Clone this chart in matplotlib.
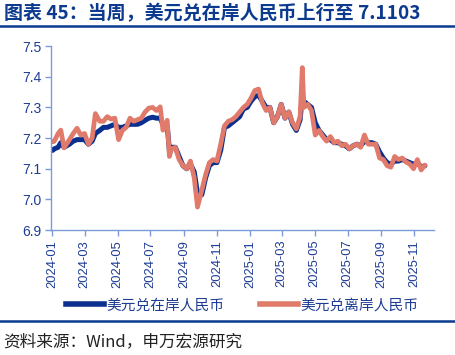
import matplotlib
matplotlib.use("Agg")
import matplotlib.pyplot as plt
import pandas as pd
from matplotlib.lines import Line2D

plt.rcParams['font.family'] = ['Liberation Sans', 'Noto Sans CJK SC', 'DejaVu Sans']

# weekly-ish readings
dates = [
    "2024-01-02", "2024-01-05", "2024-01-12", "2024-01-17", "2024-01-23", "2024-02-02", "2024-02-09",
    "2024-02-16", "2024-02-23", "2024-03-01", "2024-03-08", "2024-03-15", "2024-03-21",
    "2024-03-29", "2024-04-05", "2024-04-12", "2024-04-19", "2024-04-26", "2024-05-03",
    "2024-05-10", "2024-05-17", "2024-05-24", "2024-05-31", "2024-06-07", "2024-06-14",
    "2024-06-21", "2024-06-28", "2024-07-05", "2024-07-12", "2024-07-19", "2024-07-24",
    "2024-08-01", "2024-08-05", "2024-08-09", "2024-08-16", "2024-08-23", "2024-08-30", "2024-09-06",
    "2024-09-13", "2024-09-20", "2024-09-26", "2024-10-04", "2024-10-11", "2024-10-18",
    "2024-10-25", "2024-11-01", "2024-11-08", "2024-11-15", "2024-11-22", "2024-11-29",
    "2024-12-06", "2024-12-13", "2024-12-20", "2024-12-27",
    "2025-01-03", "2025-01-10", "2025-01-17", "2025-01-24", "2025-01-31", "2025-02-07",
    "2025-02-14", "2025-02-21", "2025-02-28", "2025-03-07", "2025-03-14", "2025-03-21",
    "2025-03-28", "2025-04-04", "2025-04-08", "2025-04-11", "2025-04-18", "2025-04-25",
    "2025-05-02", "2025-05-09", "2025-05-16", "2025-05-23", "2025-05-30", "2025-06-06",
    "2025-06-13", "2025-06-20", "2025-06-27", "2025-07-04", "2025-07-11", "2025-07-18",
    "2025-07-25", "2025-08-01", "2025-08-08", "2025-08-15", "2025-08-22", "2025-08-29",
    "2025-09-05", "2025-09-12", "2025-09-19", "2025-09-26", "2025-10-03", "2025-10-10",
    "2025-10-17", "2025-10-24", "2025-10-31", "2025-11-07", "2025-11-14", "2025-11-21",
]

onshore = [
    7.160, 7.165, 7.170, 7.185, 7.170, 7.180, 7.190,
    7.195, 7.195, 7.195, 7.180, 7.190, 7.215,
    7.225, 7.235, 7.235, 7.240, 7.245, 7.235,
    7.235, 7.240, 7.245, 7.245, 7.245, 7.250,
    7.258, 7.265, 7.268, 7.265, 7.265, 7.245,
    7.240, 7.160, 7.170, 7.170, 7.140, 7.110, 7.100,
    7.115, 7.090, 7.020, 7.015, 7.070, 7.110,
    7.120, 7.120, 7.160, 7.235, 7.240, 7.250,
    7.260, 7.270, 7.295, 7.300,
    7.320, 7.335, 7.340, 7.320, 7.300, 7.300,
    7.250, 7.270, 7.310, 7.265, 7.285, 7.245,
    7.225, 7.260, 7.340, 7.320, 7.310, 7.300,
    7.250, 7.225, 7.210, 7.195, 7.195, 7.185,
    7.185, 7.180, 7.175, 7.165, 7.175, 7.180,
    7.175, 7.190, 7.185, 7.185, 7.180, 7.155,
    7.135, 7.120, 7.115, 7.125, 7.125, 7.130,
    7.125, 7.120, 7.115, 7.120, 7.105, 7.110,
]

offshore = [
    7.188, 7.190, 7.215, 7.226, 7.168, 7.195, 7.215,
    7.232, 7.210, 7.215, 7.180, 7.200, 7.280,
    7.255, 7.255, 7.270, 7.262, 7.265, 7.195,
    7.225, 7.235, 7.265, 7.255, 7.260, 7.265,
    7.285, 7.298, 7.300, 7.290, 7.302, 7.226,
    7.258, 7.140, 7.165, 7.170, 7.130, 7.110, 7.100,
    7.125, 7.070, 6.975, 7.030, 7.080, 7.120,
    7.130, 7.125, 7.180, 7.240, 7.255, 7.260,
    7.270, 7.285, 7.300, 7.310,
    7.330, 7.355, 7.360, 7.315, 7.290, 7.300,
    7.250, 7.270, 7.310, 7.265, 7.285, 7.250,
    7.230, 7.270, 7.430, 7.300, 7.310, 7.290,
    7.210, 7.225, 7.205, 7.190, 7.205, 7.185,
    7.190, 7.175, 7.180, 7.165, 7.175, 7.180,
    7.170, 7.210, 7.180, 7.180, 7.180, 7.135,
    7.130, 7.110, 7.105, 7.140, 7.130, 7.135,
    7.122, 7.115, 7.100, 7.130, 7.096, 7.112,
]

x_ticks = ["2024-01", "2024-03", "2024-05", "2024-07", "2024-09", "2024-11",
           "2025-01", "2025-03", "2025-05", "2025-07", "2025-09", "2025-11"]
y_ticks = [6.9, 7.0, 7.1, 7.2, 7.3, 7.4, 7.5]

navy = "#0a2f8f"
salmon = "#e07a6b"
axis_c = "#7b9bd8"
label_c = "#1e3c94"

fig = plt.figure(figsize=(4.56, 3.55), dpi=100)
ax = fig.add_axes([0.112, 0.352, 0.840, 0.518])

d = pd.to_datetime(dates)
ax.plot(d, onshore, color=navy, lw=3.6, solid_capstyle="round", solid_joinstyle="round")
ax.plot(d, offshore, color=salmon, lw=3.4, solid_capstyle="round", solid_joinstyle="round")

ax.set_ylim(6.9, 7.5)
ax.set_yticks(y_ticks)
ax.set_yticklabels([f"{v:.1f}" for v in y_ticks])
ax.set_xlim(pd.Timestamp("2023-12-30"), pd.Timestamp("2025-12-08"))
ax.set_xticks(pd.to_datetime(x_ticks))
ax.set_xticklabels(x_ticks, rotation=90)

for s in ["top", "right"]:
    ax.spines[s].set_visible(False)
for s in ["left", "bottom"]:
    ax.spines[s].set_color(axis_c)
    ax.spines[s].set_linewidth(1.0)
ax.tick_params(axis="both", colors=axis_c, length=4, width=1.0, direction="out")
ax.tick_params(axis="y", labelcolor=label_c, labelsize=10, pad=3)
ax.tick_params(axis="x", labelcolor=label_c, labelsize=9.3, pad=3)

handles = [Line2D([], [], color=navy, lw=4), Line2D([], [], color=salmon, lw=4)]
leg = fig.legend(handles, ["美元兑在岸人民币", "美元兑离岸人民币"], loc="center left",
                 bbox_to_anchor=(0.115, 0.14), ncol=2, frameon=False, handlelength=2.6,
                 handletextpad=0.15, columnspacing=2.4,
                 prop={"family": ["Noto Sans CJK SC"], "size": 10.6})
for t in leg.get_texts():
    t.set_color(label_c)

fig.text(0.008, 0.962, "图表 45：当周，美元兑在岸人民币上行至 7.1103", ha="left", va="center",
         fontsize=13.7, fontweight="bold", color="#0b3a8e",
         family=["Noto Sans CJK SC", "Liberation Sans"])
fig.add_artist(Line2D([0.0, 0.997], [0.927, 0.927], color="#0b3a8e", lw=1.8))
fig.add_artist(Line2D([0.0, 0.997], [0.097, 0.097], color="#0b3a8e", lw=1.8))
fig.text(0.006, 0.036, "资料来源：Wind，申万宏源研究", ha="left", va="center",
         fontsize=12, color="#222222", family=["Noto Sans CJK SC", "Liberation Sans"])

fig.savefig("out.png", dpi=100)
